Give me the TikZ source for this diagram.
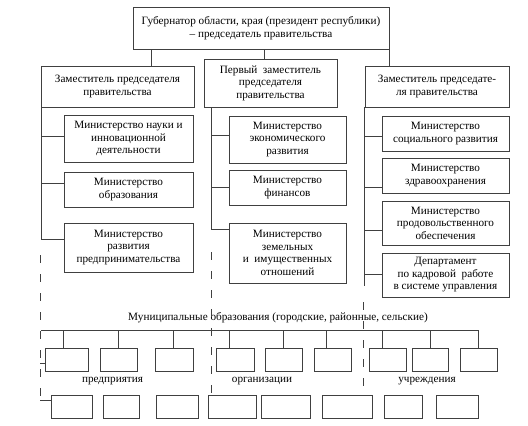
\documentclass[tikz,border=0pt]{standalone}
\usepackage{fontspec}
\setmainfont{Liberation Serif}
\begin{document}
\begin{tikzpicture}[x=1pt,y=-1pt,
  line/.style={draw=black!75,line width=0.8pt},
  bx/.style={line,rectangle,inner sep=0pt,align=center,text=black,
    font=\fontsize{11.2}{12.5}\selectfont},
  lbl/.style={inner sep=0pt,text=black,font=\fontsize{11.2}{12.5}\selectfont},
  dsh/.style={line,dash pattern=on 8pt off 11pt}]
\useasboundingbox (0,0) rectangle (528,426);
% top
\node[bx,minimum width=256pt,minimum height=42pt] (top) at (261,28)
  {Губернатор области, края (президент республики)\\– председатель правительства};
% deputies
\node[bx,minimum width=153pt,minimum height=41pt] (dl) at (117.5,86.5)
  {Заместитель председателя\\правительства};
\node[bx,minimum width=133pt,minimum height=48pt] (dc) at (270.5,83)
  {Первый\ \ заместитель\\председателя\\правительства};
\node[bx,minimum width=144pt,minimum height=41pt] (dr) at (437,86.5)
  {Заместитель председате-\\ля правительства};
% top connectors
\coordinate (t1) at (151,49);
\coordinate (t2) at (264,49);
\coordinate (t3) at (389.5,49);
\draw[line] (t1) -- (t1 |- dl.north);
\draw[line] (t2) -- (t2 |- dc.north);
\draw[line] (t3) -- (t3 |- dr.north);
% left ministries
\node[bx,minimum width=129pt,minimum height=47pt] (l1) at (128.5,138.5)
  {Министерство науки и\\инновационной\\деятельности};
\node[bx,minimum width=129pt,minimum height=35pt] (l2) at (128.5,189.5)
  {Министерство\\образования};
\node[bx,minimum width=129pt,minimum height=49pt] (l3) at (128.5,247.5)
  {Министерство\\развития\\предпринимательства};
% centre ministries
\node[bx,minimum width=117pt,minimum height=47pt] (c1) at (287.5,139.5)
  {Министерство\\экономического\\развития};
\node[bx,minimum width=117pt,minimum height=35pt] (c2) at (287.5,187.5)
  {Министерство\\финансов};
\node[bx,minimum width=117pt,minimum height=60pt] (c3) at (287.5,253)
  {Министерство\\земельных\\и\ \ имущественных\\отношений};
% right ministries
\node[bx,minimum width=127pt,minimum height=35pt] (r1) at (445.5,133.5)
  {Министерство\\социального развития};
\node[bx,minimum width=127pt,minimum height=35pt] (r2) at (445.5,175.5)
  {Министерство\\здравоохранения};
\node[bx,minimum width=127pt,minimum height=44pt] (r3) at (445.5,223)
  {Министерство\\продовольственного\\обеспечения};
\node[bx,minimum width=127pt,minimum height=44pt] (r4) at (445.5,275)
  {Департамент\\по кадровой\ \ работе\\в системе управления};
% spines
\coordinate (ls0) at (41,107);   \coordinate (ls1) at (41,136);
\coordinate (ls2) at (41,183);   \coordinate (ls3) at (41,239);
\coordinate (cs0) at (211,107);  \coordinate (cs1) at (211,135);
\coordinate (cs2) at (211,187);  \coordinate (cs3) at (211,229);
\coordinate (rs0) at (364,107);  \coordinate (rs1) at (364,136);
\coordinate (rs2) at (364,187);  \coordinate (rs3) at (364,230);
\coordinate (rs4) at (364,274);  \coordinate (rs5) at (364,286);
\draw[line] (ls0) -- (ls3);
\draw[line] (ls1) -- (ls1 -| l1.west);
\draw[line] (ls2) -- (ls2 -| l2.west);
\draw[line] (ls3) -- (ls3 -| l3.west);
\draw[line] (cs0) -- (cs3);
\draw[line] (cs1) -- (cs1 -| c1.west);
\draw[line] (cs2) -- (cs2 -| c2.west);
\draw[line] (cs3) -- (cs3 -| c3.west);
\draw[line] (rs0) -- (rs5);
\draw[line] (rs1) -- (rs1 -| r1.west);
\draw[line] (rs2) -- (rs2 -| r2.west);
\draw[line] (rs3) -- (rs3 -| r3.west);
\draw[line] (rs4) -- (rs4 -| r4.west);
% municipal
\node[lbl] (mun) at (278,318) {Муниципальные образования (городские, районные, сельские)};
\coordinate (ma) at (41,330);
\coordinate (mb) at (478,330);
\draw[line] (ma) -- (mb);
% row 1
\foreach \n/\xa/\xb/\v in {1/45/88/63, 2/100/137/118, 3/155/193/173, 4/216/254/229,
  5/265/302/283, 6/314/351/326, 7/369/406/382, 8/412/448/430, 9/460/497/478}{
  \pgfmathsetmacro{\cx}{(\xa+\xb)/2}
  \pgfmathsetmacro{\w}{\xb-\xa}
  \node[bx,minimum width=\w pt,minimum height=23pt] (a\n) at (\cx,359.5) {};
  \coordinate (v\n) at (\v,330);
  \draw[line] (v\n) -- (v\n |- a\n.north);
}
% row 2
\foreach \n/\xa/\xb in {1/51/92, 2/103/139, 3/156/198, 4/208/256,
  5/261/310, 6/322/372, 7/384/422, 8/436/478}{
  \pgfmathsetmacro{\cx}{(\xa+\xb)/2}
  \pgfmathsetmacro{\w}{\xb-\xa}
  \node[bx,minimum width=\w pt,minimum height=23pt] (b\n) at (\cx,406.5) {};
}
\node[lbl] (p1) at (112.5,381) {предприятия};
\node[lbl] (p2) at (262,381) {организации};
\node[lbl] (p3) at (427,381) {учреждения};
% dashed
\coordinate (dl0) at (40,255);
\coordinate (dl1) at (40,400);
\coordinate (dlt) at (40,363);
\draw[dsh] (dl0) -- (dl1);
\draw[line] (dl1) -- (dl1 -| b1.west);
\draw[line] (dlt) -- (dlt -| a1.west);
\coordinate (dc0) at (211,252);
\draw[dsh] (dc0) -- (dc0 |- b4.north);
\coordinate (dr0) at (363,302);
\draw[dsh] (dr0) -- (dr0 |- b6.north);
\end{tikzpicture}
\end{document}
